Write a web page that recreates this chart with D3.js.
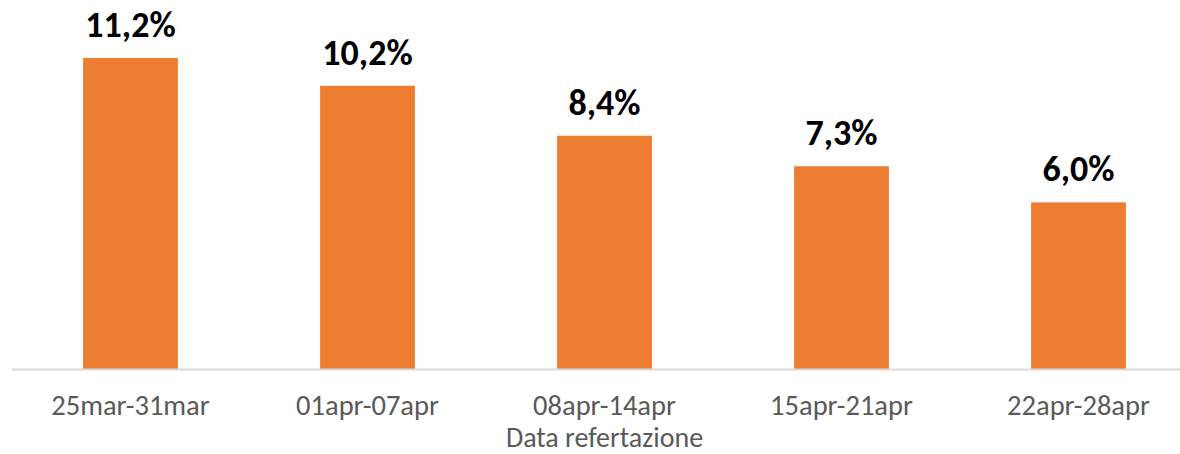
<!DOCTYPE html>
<html>
<head>
<meta charset="utf-8">
<script src="https://cdn.jsdelivr.net/npm/d3@7"></script>
<style>
  body { margin: 0; background: #fff; }
  svg text { font-family: Carlito, Calibri, Lato, sans-serif; }
</style>
</head>
<body>
<svg width="1180" height="454"></svg>
<script>
// data
var categories = ["25mar-31mar", "01apr-07apr", "08apr-14apr", "15apr-21apr", "22apr-28apr"];
var values = [11.2, 10.2, 8.4, 7.3, 6.0];
var valueLabels = ["11,2%", "10,2%", "8,4%", "7,3%", "6,0%"];
var axisTitle = "Data refertazione";

var svg = d3.select("svg"),
    width = +svg.attr("width"),
    height = +svg.attr("height");

var baseY = 369;

var x = d3.scaleBand()
    .domain(categories)
    .range([12, 1197])
    .paddingInner(0.6)
    .paddingOuter(0.3);

var y = d3.scaleLinear()
    .domain([0, 12])
    .range([baseY, baseY - 12 * 27.77]);

// bars
svg.append("g")
    .selectAll("rect")
    .data(values)
    .enter().append("rect")
    .attr("x", function (d, i) { return x(categories[i]); })
    .attr("y", function (d) { return y(d); })
    .attr("width", x.bandwidth())
    .attr("height", function (d) { return y(0) - y(d); })
    .attr("fill", "#ED7D31");

// axis line
svg.append("line")
    .attr("x1", 12).attr("x2", width)
    .attr("y1", baseY + 0.5).attr("y2", baseY + 0.5)
    .attr("stroke", "#D9D9D9")
    .attr("stroke-width", 2);

// value labels
svg.append("g")
    .selectAll("text")
    .data(values)
    .enter().append("text")
    .attr("x", function (d, i) { return x(categories[i]) + x.bandwidth() / 2; })
    .attr("y", function (d) { return y(d) - 21; })
    .attr("text-anchor", "middle")
    .style("font-size", "36px")
    .style("font-weight", "bold")
    .attr("fill", "#000")
    .text(function (d, i) { return valueLabels[i]; });

// category labels
svg.append("g")
    .selectAll("text")
    .data(categories)
    .enter().append("text")
    .attr("x", function (d) { return x(d) + x.bandwidth() / 2; })
    .attr("y", 415)
    .attr("text-anchor", "middle")
    .style("font-size", "28.5px")
    .attr("fill", "#595959")
    .text(function (d) { return d; });

svg.append("text")
    .attr("x", x(categories[2]) + x.bandwidth() / 2)
    .attr("y", 447)
    .attr("text-anchor", "middle")
    .style("font-size", "28px")
    .attr("fill", "#595959")
    .text(axisTitle);
</script>
</body>
</html>
